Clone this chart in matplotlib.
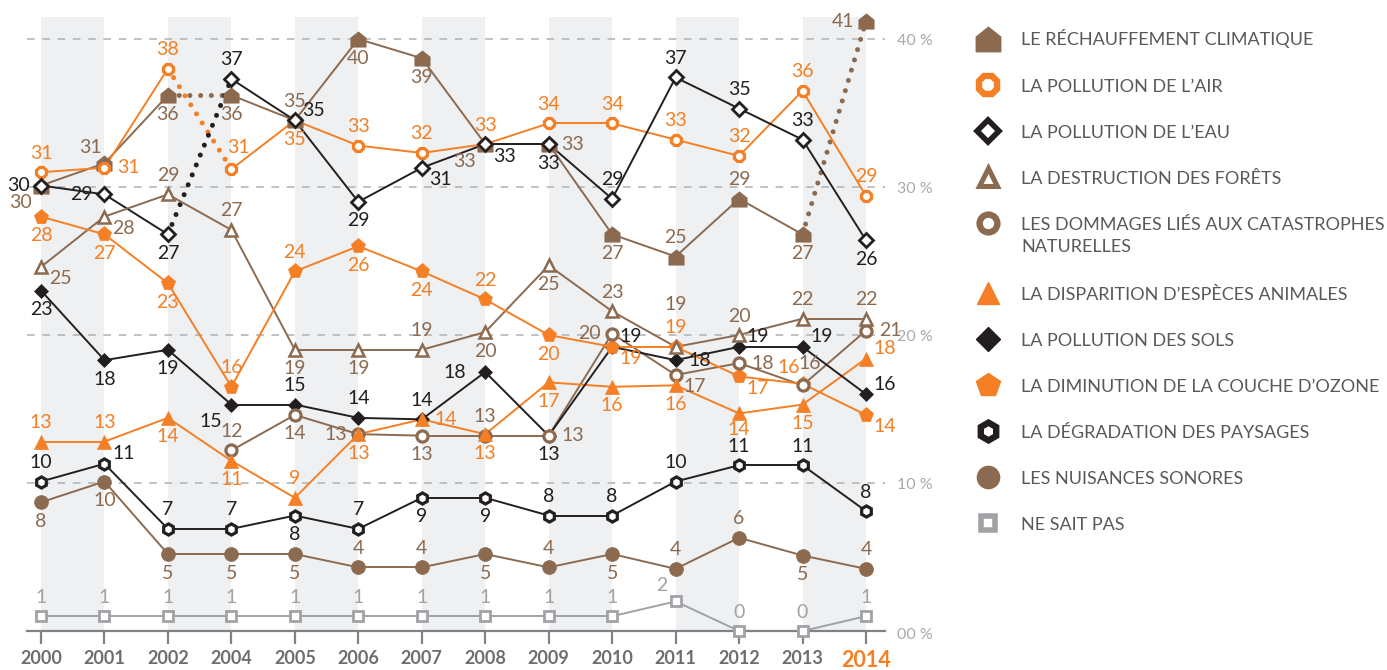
import matplotlib
matplotlib.use("Agg")
import matplotlib.pyplot as plt
from matplotlib.path import Path

plt.rcParams["font.family"] = ["Lato", "DejaVu Sans"]
plt.rcParams["lines.scale_dashes"] = False

years = ["2000", "2001", "2002", "2004", "2005", "2006", "2007",
         "2008", "2009", "2010", "2011", "2012", "2013", "2014"]

# positions (%) and the figures printed next to the points
rechauffement = [30.1, 31.6, 36.2, 36.2, 34.5, 40.0, 38.7, 32.9, 32.9, 26.8, 25.3, 29.2, 26.8, 41.2]
rechauffement_lbl = [30, 31, 36, 36, 35, 40, 39, 33, 33, 27, 25, 29, 27, 41]
air = [31.0, 31.3, 38.0, 31.2, 34.5, 32.8, 32.3, 32.9, 34.3, 34.3, 33.2, 32.1, 36.5, 29.4]
air_lbl = [31, 31, 38, 31, 35, 33, 32, 33, 34, 34, 33, 32, 36, 29]
eau = [30.1, 29.5, 26.8, 37.3, 34.5, 29.0, 31.3, 32.9, 32.9, 29.2, 37.4, 35.3, 33.2, 26.4]
eau_lbl = [30, 29, 27, 37, 35, 29, 31, 33, 33, 29, 37, 35, 33, 26]
forets = [24.6, 28.0, 29.5, 27.1, 19.0, 19.0, 19.0, 20.2, 24.7, 21.6, 19.2, 20.0, 21.1, 21.1]
forets_lbl = [25, 28, 29, 27, 19, 19, 19, 20, 25, 23, 19, 20, 22, 22]
dommages = [None, None, None, 12.2, 14.6, 13.3, 13.2, 13.2, 13.2, 20.1, 17.3, 18.1, 16.6, 20.3]
dommages_lbl = [None, None, None, 12, 14, 13, 13, 13, 13, 20, 17, 18, 16, 21]
especes = [12.8, 12.8, 14.4, 11.5, 9.0, 13.3, 14.3, 13.3, 16.8, 16.5, 16.6, 14.7, 15.3, 18.4]
especes_lbl = [13, 13, 14, 11, 9, 13, 14, 13, 17, 16, 16, 14, 15, 18]
sols = [23.0, 18.3, 19.0, 15.3, 15.3, 14.4, 14.3, 17.5, 13.2, 19.2, 18.3, 19.2, 19.2, 16.0]
sols_lbl = [23, 18, 19, 15, 15, 14, 14, 18, 13, 19, 18, 19, 19, 16]
ozone = [28.0, 26.8, 23.5, 16.5, 24.3, 26.0, 24.3, 22.4, 20.0, 19.2, 19.2, 17.2, 16.7, 14.6]
ozone_lbl = [28, 27, 23, 16, 24, 26, 24, 22, 20, 19, 19, 17, 16, 14]
paysages = [10.1, 11.3, 6.9, 6.9, 7.8, 6.9, 9.0, 9.0, 7.8, 7.8, 10.1, 11.2, 11.2, 8.1]
paysages_lbl = [10, 11, 7, 7, 8, 7, 9, 9, 8, 8, 10, 11, 11, 8]
nuisances = [8.7, 10.1, 5.2, 5.2, 5.2, 4.3, 4.3, 5.2, 4.3, 5.2, 4.2, 6.3, 5.1, 4.2]
nuisances_lbl = [8, 10, 5, 5, 5, 4, 4, 5, 4, 5, 4, 6, 5, 4]
nsp = [1.0, 1.0, 1.0, 1.0, 1.0, 1.0, 1.0, 1.0, 1.0, 1.0, 2.0, 0.0, 0.0, 1.0]
nsp_lbl = [1, 1, 1, 1, 1, 1, 1, 1, 1, 1, 2, 0, 0, 1]

legend_names = [
    "LE RÉCHAUFFEMENT CLIMATIQUE",
    "LA POLLUTION DE L’AIR",
    "LA POLLUTION DE L’EAU",
    "LA DESTRUCTION DES FORÊTS",
    "LES DOMMAGES LIÉS AUX CATASTROPHES\nNATURELLES",
    "LA DISPARITION D’ESPÈCES ANIMALES",
    "LA POLLUTION DES SOLS",
    "LA DIMINUTION DE LA COUCHE D’OZONE",
    "LA DÉGRADATION DES PAYSAGES",
    "LES NUISANCES SONORES",
    "NE SAIT PAS",
]

ORANGE = "#f47f24"
BROWN = "#8c6a4f"
BLACK = "#231f20"
GRAY = "#a0a2a5"

# little house marker
HOUSE = Path([(-1, -1), (1, -1), (1, 0.2), (0, 1), (-1, 0.2), (-1, -1)],
             [Path.MOVETO, Path.LINETO, Path.LINETO, Path.LINETO, Path.LINETO, Path.CLOSEPOLY])

# label offsets in pixels (dx, dy)
OFFS = {"a": (0, 19), "aa": (0, 42), "A": (7, 22), "b": (0, -19), "B": (0, -16),
        "l": (-23, 0), "L": (-30, 0), "r": (24, 0),
        "al": (-14, 16), "ar": (19, 10), "bl": (-21, -17), "br": (19, -12)}

series = [
    dict(v=rechauffement, lbl=rechauffement_lbl, c=BROWN, m=HOUSE, ms=11, fill=True, z=3.0,
         pos="bl al b b a b b bl r b a a b l", dotted=[2, 12]),
    dict(v=air, lbl=air_lbl, c=ORANGE, m="8", ms=8.5, fill=False, mew=2.3, z=3.1,
         pos="a r a A b a a a a a a a a a", dotted=[2]),
    dict(v=eau, lbl=eau_lbl, c=BLACK, m="D", ms=7, fill=False, mew=2.0, z=3.2,
         pos="l l b a ar b br br b a a a a b", dotted=[2]),
    dict(v=forets, lbl=forets_lbl, c=BROWN, m="^", ms=8.5, fill=False, mew=1.8, z=3.9,
         pos="br br a a b b a b b a aa a a a", dotted=[]),
    dict(v=dommages, lbl=dommages_lbl, c=BROWN, m="o", ms=8, fill=False, mew=2.3, z=3.8,
         pos="- - - a b l b a r l br r A r", dotted=[]),
    dict(v=especes, lbl=especes_lbl, c=ORANGE, m="^", ms=10, fill=True, z=3.85,
         pos="a a b b a b r b b b b B b ar", dotted=[]),
    dict(v=sols, lbl=sols_lbl, c=BLACK, m="D", ms=7.5, fill=True, z=3.35,
         pos="b b b bl a a a L b ar r ar ar ar", dotted=[]),
    dict(v=ozone, lbl=ozone_lbl, c=ORANGE, m="p", ms=11, fill=True, z=3.4,
         pos="b b b a a b b a b br a br al br", dotted=[]),
    dict(v=paysages, lbl=paysages_lbl, c=BLACK, m="h", ms=8, fill=False, mew=2.3, z=3.3,
         pos="a ar a a b a b b a a a a a a", dotted=[]),
    dict(v=nuisances, lbl=nuisances_lbl, c=BROWN, m="o", ms=10, fill=True, z=3.3,
         pos="b b b b b a a b a b a a b a", dotted=[]),
    dict(v=nsp, lbl=nsp_lbl, c=GRAY, m="s", ms=6.5, fill=False, mew=2.0, z=3.3,
         pos="a a a a a a a a a a al a a a", dotted=[]),
]


def draw():
    fig = plt.figure(figsize=(13.87, 6.70), dpi=100)
    ax = fig.add_axes([27 / 1387, 39 / 670, 858 / 1387, 614 / 670])
    ax.set_xlim(-14 / 63.44, 13 + 19 / 63.44)
    ax.set_ylim(0, 614 / 14.8)

    # grey bands and dashed grid
    for i in range(0, 13, 2):
        ax.axvspan(i, i + 1, color="#eef0f2", lw=0, zorder=0)
    for g in [10, 20, 30, 40]:
        ax.axhline(g, color="#b5b6b8", lw=1.2, ls=(0, (5.5, 5.5)), zorder=1)
        ax.text(13.49, g - 0.15, "%d %%" % g, color="#a7a9ac", fontsize=11.5,
                va="center", ha="left", clip_on=False)
    ax.text(13.49, -0.25, "00 %", color="#a7a9ac", fontsize=11.5,
            va="center", ha="left", clip_on=False)

    for s in series:
        v = s["v"]
        for i in range(len(v) - 1):
            if v[i] is None or v[i + 1] is None:
                continue
            if i in s["dotted"]:
                ax.plot([i, i + 1], [v[i], v[i + 1]], color=s["c"], lw=3.6,
                        ls=(0, (0.01, 7.7)), dash_capstyle="round", zorder=2)
            else:
                ax.plot([i, i + 1], [v[i], v[i + 1]], color=s["c"], lw=1.4,
                        solid_capstyle="round", zorder=2)

    for s in series:
        v = s["v"]
        xs = [i for i in range(len(v)) if v[i] is not None]
        ys = [v[i] for i in xs]
        ax.plot(xs, ys, ls="none", marker=s["m"], ms=s["ms"],
                mfc=s["c"] if s["fill"] else "white", mec=s["c"],
                mew=s.get("mew", 0.5), zorder=s["z"], clip_on=False)
        codes = s["pos"].split()
        for i in xs:
            dx, dy = OFFS[codes[i]]
            ax.annotate(str(s["lbl"][i]), (i, v[i]), xytext=(dx * 0.72, dy * 0.72),
                        textcoords="offset points", ha="center", va="center",
                        color=s["c"], fontsize=14, zorder=5, annotation_clip=False)

    for side in ["top", "left", "right"]:
        ax.spines[side].set_visible(False)
    ax.spines["bottom"].set_color("#808285")
    ax.spines["bottom"].set_linewidth(1.6)
    ax.set_yticks([])
    ax.set_xticks(range(len(years)), years)
    ax.tick_params(axis="x", direction="out", length=9, width=1.6, color="#808285",
                   pad=5, labelsize=13, labelcolor="#6d6e71")
    for t in ax.get_xticklabels():
        t.set_fontweight("bold")
    last = ax.get_xticklabels()[-1]
    last.set_color(ORANGE)
    last.set_fontsize(15.5)

    # legend on the right, in pixel coordinates
    lax = fig.add_axes([0, 0, 1, 1])
    lax.set_xlim(0, 1387)
    lax.set_ylim(670, 0)
    lax.axis("off")
    for i, (s, name) in enumerate(zip(series, legend_names)):
        y = 39 + 46 * i + (24 if i >= 5 else 0)
        lax.plot(988, y, marker=s["m"], ms=s["ms"] * 1.6,
                 mfc=s["c"] if s["fill"] else "white", mec=s["c"],
                 mew=s.get("mew", 0.5) * 2.0, clip_on=False)
        for k, line in enumerate(name.split("\n")):
            lax.text(1021, y + 6.5 + 23 * k, line, color="#58595b", fontsize=13,
                     va="baseline", ha="left")

    fig.savefig("out.png", dpi=100)


if __name__ == "__main__":
    draw()
